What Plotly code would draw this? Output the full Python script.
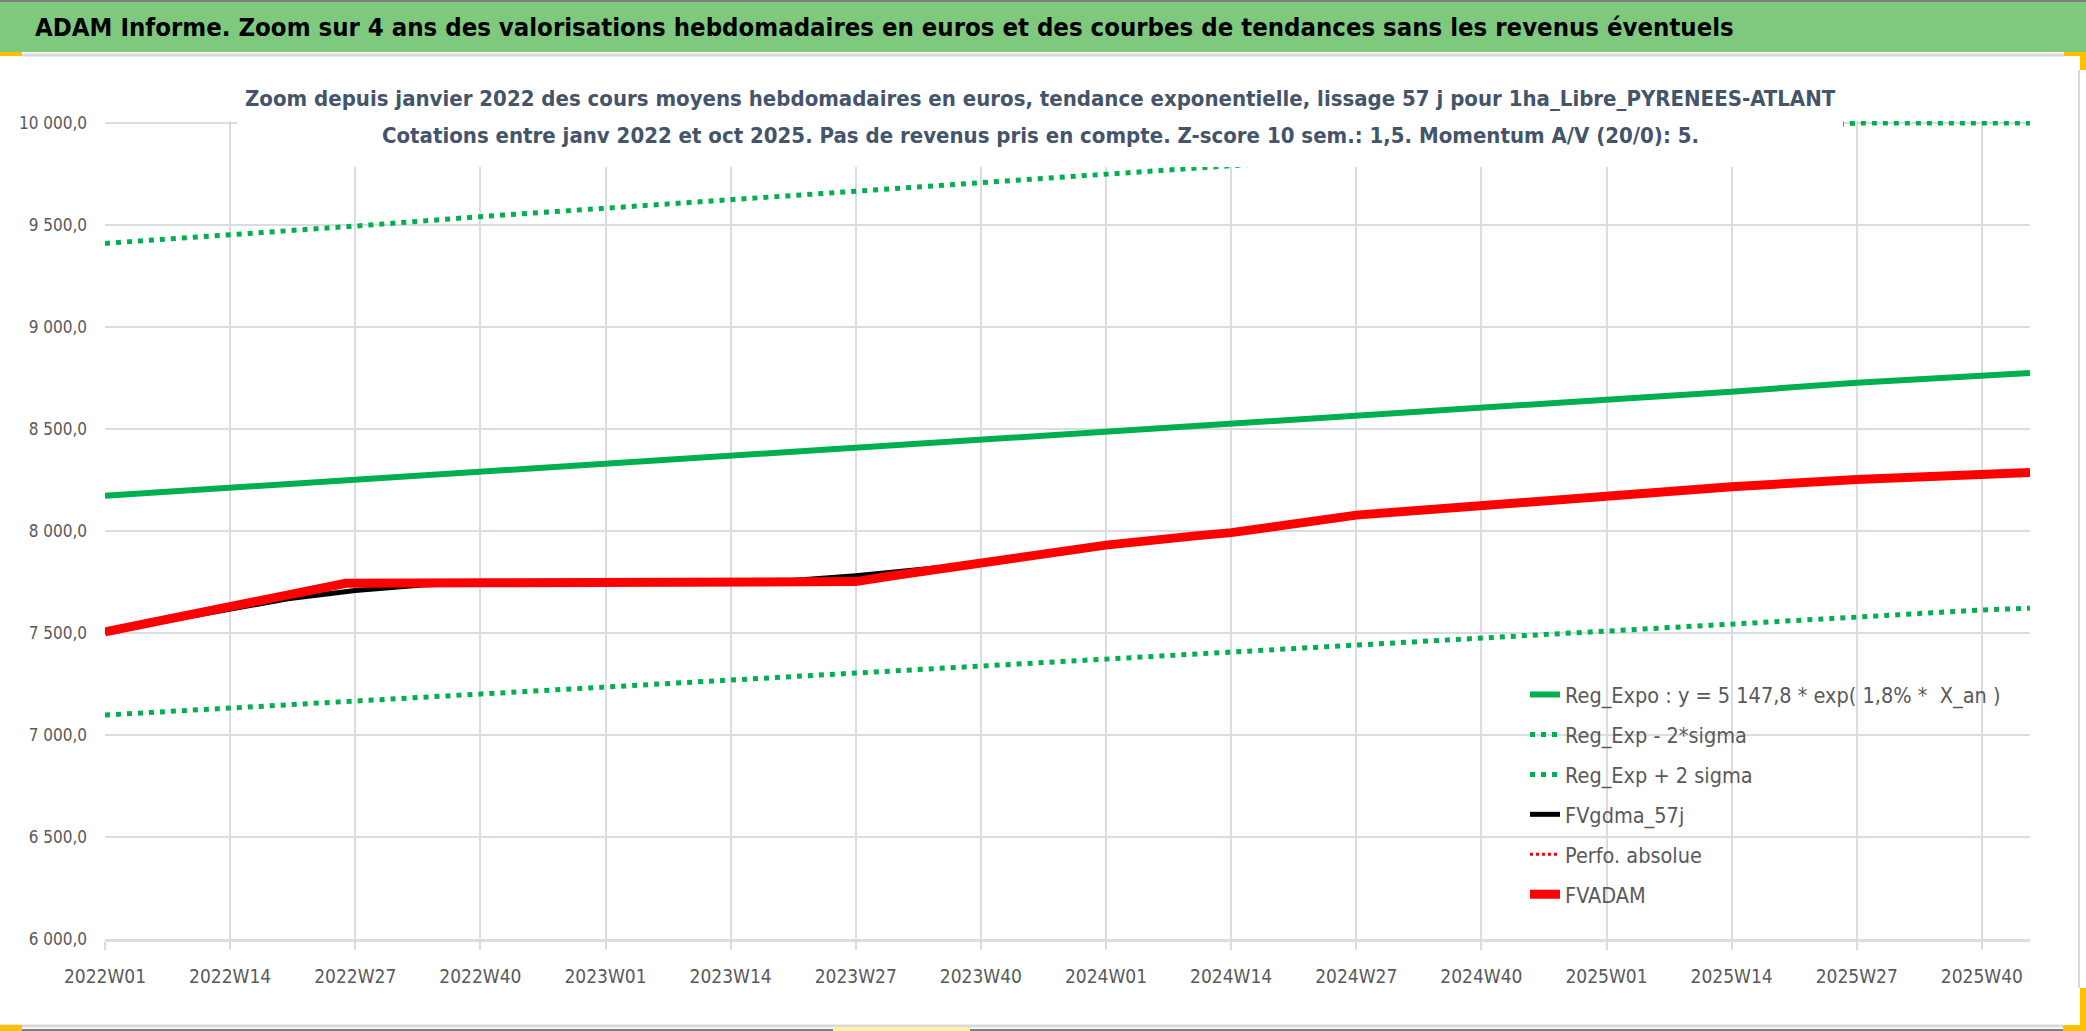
import plotly.graph_objects as go

# ---- données ----
years = [2022, 2023, 2024, 2025]
weeks_per_year = [52, 52, 52, 45]
weeks = [f"{y}W{w:02d}" for y, n in zip(years, weeks_per_year) for w in range(1, n + 1)]

tick_weeks = ["2022W01", "2022W14", "2022W27", "2022W40", "2023W01", "2023W14",
              "2023W27", "2023W40", "2024W01", "2024W14", "2024W27", "2024W40",
              "2025W01", "2025W14", "2025W27", "2025W40"]

trend_weeks = tick_weeks + ["2025W45"]
reg_expo = [8173, 8212, 8250, 8288, 8327, 8366, 8405, 8444, 8483, 8523, 8563,
            8603, 8643, 8683, 8727, 8765, 8775]
reg_minus = [7098, 7132, 7165, 7198, 7232, 7266, 7300, 7334, 7368, 7402, 7437,
             7472, 7507, 7542, 7578, 7613, 7622]
reg_plus = [9410, 9451, 9495, 9541, 9582, 9623, 9664, 9705, 9746, 9788, 9831,
            9874, 9917, 9960, 10000, 10000, 10000]

gdma_weeks = ["2022W01", "2022W14", "2022W20", "2022W27", "2022W34", "2022W40",
              "2023W14", "2023W20", "2023W27", "2023W34", "2023W40", "2024W01",
              "2024W10", "2024W14", "2024W27", "2024W40", "2025W01", "2025W14",
              "2025W27", "2025W40", "2025W45"]
gdma = [7506, 7620, 7668, 7708, 7735, 7745, 7750, 7756, 7781, 7812, 7841, 7931,
        7975, 7992, 8078, 8127, 8168, 8217, 8253, 8276, 8287]

adam_weeks = ["2022W01", "2022W14", "2022W26", "2022W40", "2023W01", "2023W14",
              "2023W27", "2023W31", "2023W40", "2024W01", "2024W10", "2024W14",
              "2024W27", "2024W40", "2025W01", "2025W14", "2025W27", "2025W40",
              "2025W45"]
fvadam = [7506, 7626, 7744, 7746, 7748, 7750, 7752, 7782, 7841, 7931, 7975, 7992,
          8078, 8127, 8168, 8217, 8253, 8276, 8287]

y_ticks = [6000, 6500, 7000, 7500, 8000, 8500, 9000, 9500, 10000]
y_labels = ["6 000,0", "6 500,0", "7 000,0", "7 500,0", "8 000,0", "8 500,0",
            "9 000,0", "9 500,0", "10 000,0"]

header = ("ADAM Informe. Zoom sur 4 ans des valorisations hebdomadaires en euros "
          "et des courbes de tendances sans les revenus éventuels")
title1 = ("Zoom depuis janvier 2022 des cours moyens hebdomadaires en euros, tendance "
          "exponentielle, lissage 57 j pour 1ha_Libre_PYRENEES-ATLANT")
title2 = ("Cotations entre janv 2022 et oct 2025. Pas de revenus pris en compte. "
          "Z-score 10 sem.: 1,5. Momentum A/V (20/0): 5.")

# ---- mise en page ----
W, H = 2086, 1031
ML, MR, MT, MB = 105, 56, 121, 92
FONT = "Liberation Sans Narrow, Arial Narrow, DejaVu Sans Condensed, Liberation Sans, sans-serif"
GREEN = "#00B050"
RED = "#FF0000"
GRID = "#D9DCE1"
TXT = "#595959"


def px(p):
    return (p - ML) / (W - ML - MR)


def py(p):
    return 1 - (p - MT) / (H - MT - MB)


fig = go.Figure()
fig.add_trace(go.Scatter(x=trend_weeks, y=reg_expo, mode="lines",
                         name="Reg_Expo : y = 5 147,8 * exp( 1,8% *  X_an )",
                         line=dict(color=GREEN, width=6), legendgroup="a"))
fig.add_trace(go.Scatter(x=trend_weeks, y=reg_minus, mode="lines",
                         name="Reg_Exp - 2*sigma",
                         line=dict(color=GREEN, width=5, dash="5px,6px"), legendgroup="b"))
fig.add_trace(go.Scatter(x=trend_weeks, y=reg_plus, mode="lines",
                         name="Reg_Exp + 2 sigma",
                         line=dict(color=GREEN, width=5, dash="5px,6px"), legendgroup="c"))
fig.add_trace(go.Scatter(x=gdma_weeks, y=gdma, mode="lines", name="FVgdma_57j",
                         line=dict(color="black", width=5), legendgroup="d"))
# série présente uniquement dans la légende
fig.add_trace(go.Scatter(x=[weeks[0]], y=[None], mode="lines", name="Perfo. absolue",
                         line=dict(color=RED, width=3, dash="dot"), legendgroup="e"))
fig.add_trace(go.Scatter(x=adam_weeks, y=fvadam, mode="lines", name="FVADAM",
                         line=dict(color=RED, width=9), legendgroup="f"))

shapes = [
    # bandeau vert
    dict(type="rect", xref="paper", yref="paper", x0=px(0), x1=px(W), y0=py(0), y1=py(52),
         fillcolor="#7FC97E", line_width=0, layer="below"),
    dict(type="line", xref="paper", yref="paper", x0=px(22), x1=px(2064), y0=py(55), y1=py(55),
         line=dict(color="#D9D9D9", width=3)),
    dict(type="line", xref="paper", yref="paper", x0=px(0), x1=px(W), y0=py(1), y1=py(1),
         line=dict(color="#7F7F7F", width=2)),
    dict(type="line", xref="paper", yref="paper", x0=px(0), x1=px(2063), y0=py(1026), y1=py(1026),
         line=dict(color="#D9D9D9", width=3)),
    dict(type="line", xref="paper", yref="paper", x0=px(0), x1=px(W), y0=py(1030), y1=py(1030),
         line=dict(color="#7F7F7F", width=2)),
    dict(type="line", xref="paper", yref="paper", x0=px(2079), x1=px(2079), y0=py(70), y1=py(988),
         line=dict(color="#D9D9D9", width=2)),
    # poignées jaunes
    dict(type="rect", xref="paper", yref="paper", x0=px(0), x1=px(22), y0=py(52), y1=py(56),
         fillcolor="#FFC000", line_width=0),
    dict(type="rect", xref="paper", yref="paper", x0=px(2064), x1=px(W), y0=py(52), y1=py(56),
         fillcolor="#FFC000", line_width=0),
    dict(type="rect", xref="paper", yref="paper", x0=px(2080), x1=px(W), y0=py(52), y1=py(70),
         fillcolor="#FFC000", line_width=0),
    dict(type="rect", xref="paper", yref="paper", x0=px(0), x1=px(22), y0=py(1025), y1=py(1031),
         fillcolor="#FFC000", line_width=0),
    dict(type="rect", xref="paper", yref="paper", x0=px(833), x1=px(970), y0=py(1027), y1=py(1031),
         fillcolor="#FFF2A8", line_width=0),
    dict(type="rect", xref="paper", yref="paper", x0=px(2063), x1=px(W), y0=py(1025), y1=py(1031),
         fillcolor="#FFC000", line_width=0),
    dict(type="rect", xref="paper", yref="paper", x0=px(2080), x1=px(W), y0=py(988), y1=py(1031),
         fillcolor="#FFC000", line_width=0),
    # fond blanc du titre (masque la grille)
    dict(type="rect", xref="paper", yref="paper", x0=px(237), x1=px(1843), y0=py(60), y1=py(167),
         fillcolor="white", line_width=0, layer="above"),
]

annotations = [
    dict(text=f"<b>{header}</b>", xref="paper", yref="paper", x=px(33), y=py(27),
         xanchor="left", yanchor="middle", showarrow=False,
         font=dict(family=FONT, size=25.5, color="black")),
    dict(text=f"<b>{title1}</b>", xref="paper", yref="paper", x=px(1040), y=py(98),
         xanchor="center", yanchor="middle", showarrow=False,
         font=dict(family=FONT, size=22, color="#44546A")),
    dict(text=f"<b>{title2}</b>", xref="paper", yref="paper", x=px(1040), y=py(135),
         xanchor="center", yanchor="middle", showarrow=False,
         font=dict(family=FONT, size=22, color="#44546A")),
]

fig.update_layout(
    width=W, height=H,
    margin=dict(l=ML, r=MR, t=MT, b=MB, pad=0),
    paper_bgcolor="white", plot_bgcolor="white",
    font=dict(family=FONT, size=19, color=TXT),
    showlegend=True,
    legend=dict(x=px(1525), y=py(674), xanchor="left", yanchor="top",
                bgcolor="rgba(0,0,0,0)", font=dict(family=FONT, size=21.5, color=TXT),
                tracegroupgap=9, traceorder="grouped"),
    shapes=shapes,
    annotations=annotations,
)
fig.update_xaxes(type="category", categoryorder="array", categoryarray=weeks,
                 range=[0, len(weeks) - 1], tickmode="array", tickvals=tick_weeks,
                 ticktext=tick_weeks, showgrid=True, gridcolor=GRID, gridwidth=1.5,
                 ticks="outside", ticklen=8, tickcolor=GRID, tickwidth=1.5,
                 showline=True, linecolor=GRID, linewidth=2.5, zeroline=False,
                 automargin=False,
                 tickfont=dict(family=FONT, size=19, color=TXT), ticklabelstandoff=10)
fig.update_yaxes(range=[6000, 10010], tickmode="array", tickvals=y_ticks,
                 ticktext=y_labels, showgrid=True, gridcolor=GRID, gridwidth=1.5,
                 zeroline=False, showline=False, ticks="", automargin=False,
                 tickfont=dict(family=FONT, size=17, color=TXT), ticklabelstandoff=17)

fig.write_html("out.html", config={"displayModeBar": False},
               post_script="document.body.style.margin='0';document.body.style.overflow='hidden';")
